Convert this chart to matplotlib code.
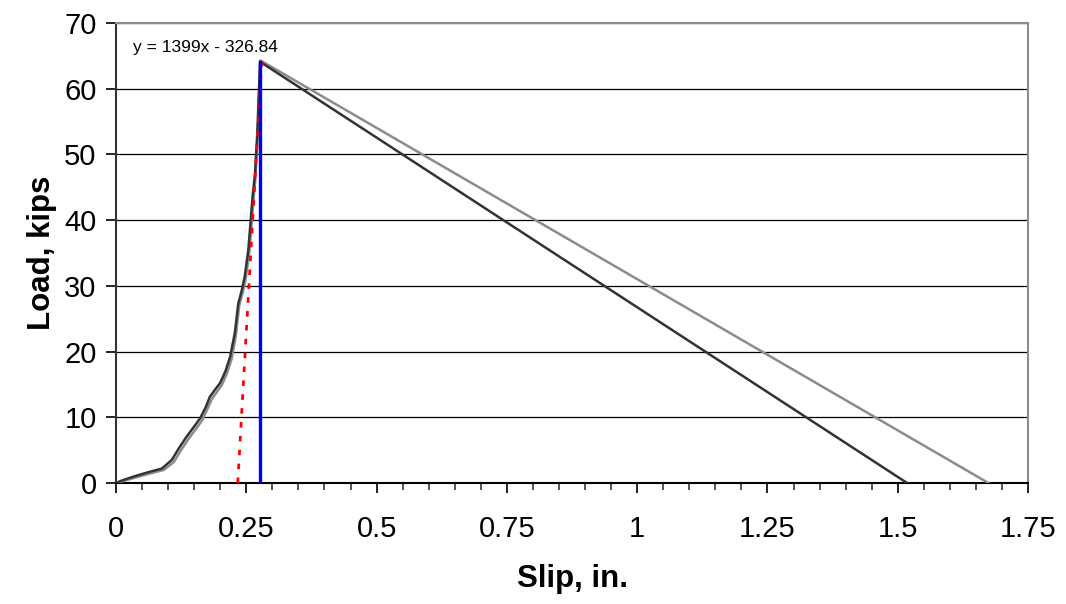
import numpy as np
from matplotlib import pyplot as plt
from matplotlib.ticker import MultipleLocator

plt.rcParams['font.family'] = ['Liberation Sans', 'DejaVu Sans']

# load-slip curves
slip_a = [0.0, 0.012, 0.033, 0.06, 0.088, 0.107, 0.12, 0.135, 0.15, 0.161, 0.172, 0.18,
          0.19, 0.1996, 0.21, 0.219, 0.228, 0.2346, 0.241, 0.247, 0.254, 0.258, 0.262,
          0.2668, 0.271, 0.2764]
load_a = [0.0, 0.4, 0.96, 1.6, 2.2, 3.5, 5.2, 7.0, 8.6, 9.8, 11.5, 13.1, 14.2, 15.2,
          17.0, 19.2, 22.8, 27.3, 29.2, 31.4, 35.5, 39.5, 43.5, 47.1, 53.0, 64.1]
slip_b = [0.0, 0.014, 0.036, 0.063, 0.092, 0.111, 0.124, 0.139, 0.154, 0.165, 0.175, 0.184,
          0.194, 0.203, 0.213, 0.222, 0.23, 0.2365, 0.243, 0.249, 0.256, 0.26, 0.264,
          0.268, 0.272, 0.277]
load_b = [0.0, 0.3, 0.8, 1.4, 2.0, 3.2, 4.9, 6.7, 8.3, 9.5, 11.2, 12.8, 13.9, 14.9,
          16.7, 18.9, 22.4, 27.0, 28.9, 31.1, 35.2, 39.2, 43.2, 46.8, 52.7, 64.3]

# descending branches to zero load
end_a = 1.518
end_b = 1.674

# linear trendline
slope = 1399
intercept = -326.84
peak_slip = 0.2765
peak_load = 64.0

xtick_labels = ['0', '0.25', '0.5', '0.75', '1', '1.25', '1.5', '1.75']

fig = plt.figure(figsize=(10.66, 6.04), dpi=100)
ax = fig.add_axes([0.1088, 0.2003, 0.8556, 0.7617])

ax.plot(slip_b + [end_b], load_b + [0], color='#8c8c8c', lw=1.8, zorder=3)
ax.plot(slip_a + [end_a], load_a + [0], color='#333333', lw=1.8, zorder=3)

x_fit = np.array([-intercept / slope, (peak_load + 0.3 - intercept) / slope])
ax.plot(x_fit, slope * x_fit + intercept, color='red', lw=2, ls=(0, (2, 3)), zorder=4)
ax.plot([peak_slip, peak_slip], [0, peak_load], color='#0000ff', lw=2.4, zorder=5)

ax.text(0.0326, 66.3, 'y = 1399x - 326.84', fontsize=12.5, va='center', ha='left')

ax.set_xlim(0, 1.75)
ax.set_ylim(0, 70)
ax.set_xticks(np.arange(0, 1.76, 0.25))
ax.set_xticklabels(xtick_labels)
ax.xaxis.set_minor_locator(MultipleLocator(0.05))
ax.yaxis.set_major_locator(MultipleLocator(10))
ax.tick_params(axis='both', which='major', labelsize=21, direction='out', length=7, width=1.2,
               color='black')
ax.tick_params(axis='x', which='minor', direction='out', length=5, width=1.2, color='#333333')
ax.tick_params(axis='x', pad=16)
ax.tick_params(axis='y', pad=7)

ax.grid(True, axis='y', color='black', lw=0.9)
ax.set_axisbelow(True)
ax.spines['top'].set_color('#8c8c8c')
ax.spines['right'].set_color('#8c8c8c')
ax.spines['left'].set_color('#333333')
ax.spines['bottom'].set_color('black')
for s in ax.spines.values():
    s.set_linewidth(1.5)

ax.set_xlabel('Slip, in.', fontsize=22.5, fontweight='bold', labelpad=15)
ax.set_ylabel('Load, kips', fontsize=22.5, fontweight='bold', labelpad=5)

fig.savefig('out.png', dpi=100)
